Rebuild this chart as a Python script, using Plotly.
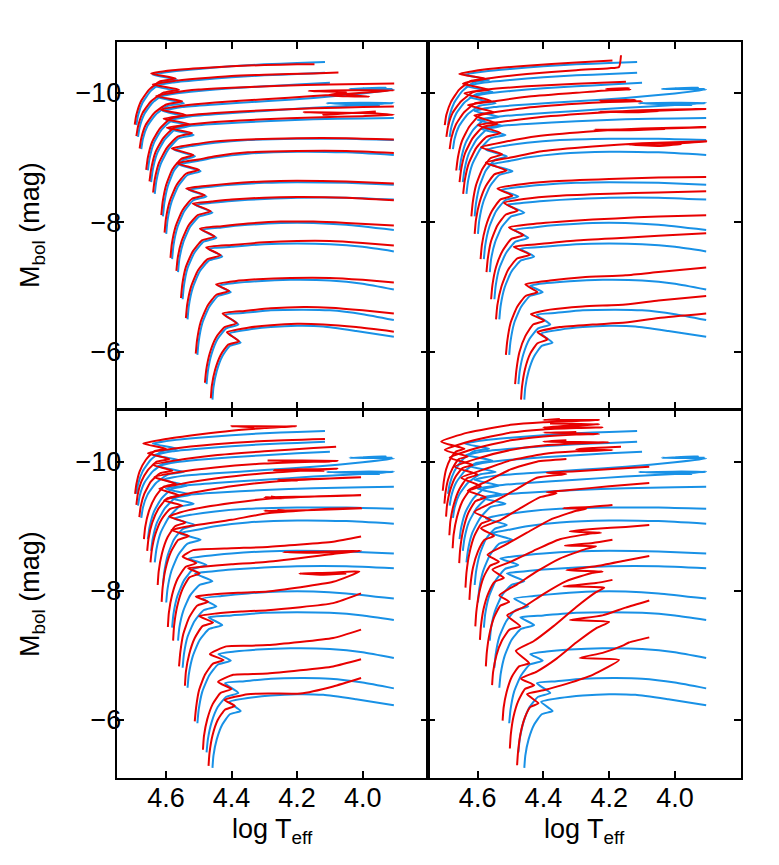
import plotly.graph_objects as go

# ---- data: each track is a list of (log Teff, Mbol) points ----
BLUE_TRACKS = [
    [(4.690,-9.50),(4.685,-9.65),(4.671,-9.85),(4.646,-10.03),(4.612,-10.16),(4.565,-10.20),(4.640,-10.28),(4.58,-10.33),(4.50,-10.37),(4.40,-10.41),(4.30,-10.44),(4.20,-10.46),(4.115,-10.475)],
    [(4.685,-9.32),(4.680,-9.47),(4.666,-9.67),(4.640,-9.85),(4.604,-9.98),(4.555,-10.02),(4.635,-10.10),(4.58,-10.16),(4.50,-10.20),(4.40,-10.24),(4.30,-10.27),(4.20,-10.29),(4.115,-10.31)],
    [(4.675,-9.13),(4.670,-9.29),(4.656,-9.49),(4.630,-9.67),(4.594,-9.80),(4.545,-9.84),(4.625,-9.93),(4.57,-9.99),(4.50,-10.03),(4.40,-10.07),(4.30,-10.10),(4.20,-10.13),(4.10,-10.155)],
    [(4.655,-8.80),(4.650,-8.98),(4.637,-9.22),(4.613,-9.43),(4.581,-9.58),(4.535,-9.63),(4.610,-9.72),(4.55,-9.78),(4.45,-9.82),(4.30,-9.87),(4.15,-9.92),(4.00,-9.99),(3.905,-10.05),(4.04,-10.06),(3.93,-10.08),(4.00,-10.07),(3.91,-10.06)],
    [(4.645,-8.62),(4.640,-8.81),(4.627,-9.06),(4.603,-9.28),(4.571,-9.44),(4.525,-9.49),(4.600,-9.58),(4.54,-9.63),(4.45,-9.67),(4.30,-9.72),(4.15,-9.77),(4.00,-9.81),(3.905,-9.845),(4.11,-9.84),(3.95,-9.81),(4.05,-9.82),(3.91,-9.84)],
    [(4.634,-8.44),(4.629,-8.64),(4.616,-8.90),(4.592,-9.13),(4.560,-9.30),(4.515,-9.35),(4.590,-9.44),(4.53,-9.49),(4.45,-9.52),(4.30,-9.56),(4.15,-9.59),(4.00,-9.605),(3.905,-9.61)],
    [(4.609,-8.09),(4.605,-8.29),(4.594,-8.56),(4.575,-8.80),(4.548,-8.96),(4.511,-9.02),(4.575,-9.12),(4.52,-9.18),(4.45,-9.23),(4.35,-9.27),(4.20,-9.29),(4.05,-9.29),(3.905,-9.27)],
    [(4.599,-7.82),(4.595,-8.03),(4.583,-8.31),(4.562,-8.56),(4.534,-8.73),(4.494,-8.79),(4.559,-8.89),(4.50,-8.95),(4.45,-9.00),(4.35,-9.06),(4.20,-9.09),(4.05,-9.08),(3.905,-9.04)],
    [(4.581,-7.43),(4.577,-7.64),(4.565,-7.92),(4.544,-8.17),(4.516,-8.34),(4.476,-8.40),(4.531,-8.50),(4.48,-8.54),(4.40,-8.58),(4.30,-8.61),(4.20,-8.62),(4.05,-8.61),(3.905,-8.58)],
    [(4.563,-7.23),(4.559,-7.43),(4.547,-7.69),(4.526,-7.93),(4.498,-8.09),(4.458,-8.15),(4.511,-8.27),(4.46,-8.30),(4.40,-8.33),(4.30,-8.36),(4.20,-8.38),(4.05,-8.38),(3.905,-8.35)],
    [(4.549,-6.81),(4.545,-7.02),(4.534,-7.29),(4.513,-7.53),(4.485,-7.70),(4.446,-7.76),(4.489,-7.88),(4.43,-7.92),(4.35,-7.96),(4.25,-7.99),(4.15,-7.99),(4.05,-7.96),(3.905,-7.88)],
    [(4.534,-6.50),(4.530,-6.71),(4.518,-6.99),(4.497,-7.24),(4.468,-7.41),(4.428,-7.47),(4.470,-7.59),(4.40,-7.62),(4.30,-7.66),(4.20,-7.67),(4.10,-7.66),(4.00,-7.62),(3.905,-7.55)],
    [(4.504,-5.95),(4.500,-6.16),(4.489,-6.44),(4.468,-6.69),(4.441,-6.86),(4.402,-6.92),(4.440,-7.02),(4.39,-7.06),(4.32,-7.09),(4.22,-7.11),(4.10,-7.10),(4.00,-7.05),(3.905,-6.96)],
    [(4.476,-5.50),(4.472,-5.70),(4.461,-5.96),(4.442,-6.20),(4.416,-6.36),(4.379,-6.42),(4.420,-6.57),(4.36,-6.60),(4.28,-6.64),(4.18,-6.65),(4.10,-6.64),(4.00,-6.58),(3.905,-6.49)],
    [(4.458,-5.26),(4.455,-5.45),(4.445,-5.70),(4.428,-5.93),(4.405,-6.09),(4.372,-6.14),(4.407,-6.28),(4.35,-6.34),(4.28,-6.38),(4.20,-6.40),(4.12,-6.39),(4.02,-6.32),(3.905,-6.23)],
]

RED_TRACKS_A = [
    [(4.695,-9.51),(4.690,-9.66),(4.676,-9.87),(4.651,-10.05),(4.617,-10.18),(4.570,-10.22),(4.645,-10.30),(4.58,-10.35),(4.50,-10.38),(4.40,-10.41),(4.30,-10.43),(4.20,-10.44),(4.147,-10.44)],
    [(4.690,-9.33),(4.685,-9.48),(4.671,-9.69),(4.645,-9.87),(4.609,-10.00),(4.560,-10.05),(4.640,-10.13),(4.58,-10.18),(4.50,-10.22),(4.40,-10.26),(4.30,-10.28),(4.15,-10.30),(4.074,-10.315)],
    [(4.680,-9.14),(4.675,-9.30),(4.661,-9.51),(4.635,-9.69),(4.599,-9.82),(4.550,-9.87),(4.630,-9.95),(4.57,-10.01),(4.50,-10.05),(4.40,-10.08),(4.25,-10.11),(4.10,-10.13),(3.904,-10.145)],
    [(4.660,-8.81),(4.655,-9.00),(4.642,-9.24),(4.618,-9.45),(4.586,-9.60),(4.540,-9.66),(4.615,-9.74),(4.55,-9.80),(4.45,-9.85),(4.30,-9.90),(4.15,-9.95),(4.00,-10.00),(3.905,-10.04),(4.165,-10.03),(4.05,-10.01),(4.11,-9.96),(3.98,-9.94),(4.05,-9.97)],
    [(4.650,-8.63),(4.645,-8.82),(4.632,-9.08),(4.608,-9.30),(4.576,-9.46),(4.530,-9.52),(4.607,-9.60),(4.54,-9.65),(4.45,-9.69),(4.30,-9.73),(4.15,-9.76),(4.00,-9.78),(3.905,-9.79)],
    [(4.639,-8.46),(4.634,-8.66),(4.621,-8.92),(4.597,-9.15),(4.565,-9.32),(4.520,-9.38),(4.597,-9.46),(4.53,-9.51),(4.45,-9.55),(4.30,-9.59),(4.15,-9.62),(4.00,-9.64),(3.905,-9.66),(4.00,-9.69),(4.18,-9.70),(4.05,-9.68),(4.12,-9.66),(3.96,-9.71)],
    [(4.614,-8.11),(4.610,-8.31),(4.599,-8.58),(4.580,-8.82),(4.553,-8.98),(4.516,-9.04),(4.582,-9.14),(4.52,-9.20),(4.45,-9.25),(4.35,-9.28),(4.20,-9.30),(4.05,-9.30),(3.905,-9.28)],
    [(4.604,-7.84),(4.600,-8.05),(4.588,-8.33),(4.567,-8.58),(4.539,-8.75),(4.499,-8.81),(4.566,-8.91),(4.50,-8.97),(4.45,-9.02),(4.35,-9.08),(4.20,-9.10),(4.05,-9.10),(3.905,-9.07)],
    [(4.586,-7.45),(4.582,-7.66),(4.570,-7.94),(4.549,-8.19),(4.521,-8.36),(4.481,-8.42),(4.538,-8.52),(4.48,-8.56),(4.40,-8.60),(4.30,-8.63),(4.20,-8.64),(4.05,-8.63),(3.905,-8.60)],
    [(4.568,-7.25),(4.564,-7.45),(4.552,-7.71),(4.531,-7.95),(4.503,-8.11),(4.463,-8.17),(4.518,-8.29),(4.46,-8.32),(4.40,-8.35),(4.30,-8.38),(4.20,-8.39),(4.05,-8.38),(3.905,-8.34)],
    [(4.554,-6.83),(4.550,-7.04),(4.539,-7.31),(4.518,-7.55),(4.490,-7.72),(4.451,-7.78),(4.496,-7.90),(4.43,-7.94),(4.35,-7.98),(4.25,-8.01),(4.15,-8.01),(4.05,-7.99),(3.905,-7.95)],
    [(4.539,-6.52),(4.535,-6.73),(4.523,-7.01),(4.502,-7.26),(4.473,-7.43),(4.433,-7.49),(4.477,-7.61),(4.40,-7.65),(4.30,-7.69),(4.20,-7.71),(4.10,-7.71),(4.00,-7.68),(3.905,-7.64)],
    [(4.509,-5.97),(4.505,-6.18),(4.494,-6.46),(4.473,-6.71),(4.446,-6.88),(4.407,-6.94),(4.447,-7.04),(4.39,-7.09),(4.32,-7.12),(4.22,-7.14),(4.10,-7.14),(4.00,-7.11),(3.905,-7.07)],
    [(4.481,-5.52),(4.477,-5.72),(4.466,-5.98),(4.447,-6.22),(4.421,-6.38),(4.384,-6.44),(4.427,-6.59),(4.36,-6.63),(4.28,-6.67),(4.18,-6.69),(4.10,-6.68),(4.00,-6.64),(3.905,-6.59)],
    [(4.463,-5.28),(4.460,-5.47),(4.450,-5.72),(4.433,-5.95),(4.410,-6.11),(4.377,-6.16),(4.414,-6.30),(4.35,-6.37),(4.28,-6.41),(4.20,-6.43),(4.12,-6.42),(4.02,-6.38),(3.905,-6.31)],
]

RED_TRACKS_B = [
    [(4.700,-9.50),(4.695,-9.66),(4.681,-9.86),(4.656,-10.05),(4.622,-10.18),(4.575,-10.22),(4.656,-10.29),(4.58,-10.36),(4.45,-10.42),(4.30,-10.47),(4.19,-10.50)],
    [(4.695,-9.32),(4.690,-9.48),(4.676,-9.69),(4.650,-9.87),(4.614,-10.01),(4.565,-10.05),(4.645,-10.14),(4.57,-10.22),(4.45,-10.29),(4.30,-10.35),(4.20,-10.38),(4.17,-10.40),(4.164,-10.58)],
    [(4.685,-9.13),(4.680,-9.30),(4.666,-9.51),(4.641,-9.70),(4.607,-9.84),(4.560,-9.88),(4.640,-9.99),(4.57,-10.05),(4.45,-10.10),(4.30,-10.14),(4.149,-10.17)],
    [(4.665,-8.80),(4.660,-9.00),(4.648,-9.25),(4.625,-9.48),(4.594,-9.65),(4.550,-9.70),(4.630,-9.81),(4.55,-9.87),(4.45,-9.94),(4.30,-10.00),(4.20,-10.04),(4.135,-10.05),(4.21,-10.06),(4.14,-10.07),(4.19,-10.05)],
    [(4.655,-8.62),(4.650,-8.82),(4.638,-9.07),(4.615,-9.30),(4.584,-9.47),(4.540,-9.52),(4.610,-9.65),(4.55,-9.70),(4.45,-9.77),(4.30,-9.83),(4.20,-9.86),(4.10,-9.87),(4.23,-9.88),(4.12,-9.89),(4.18,-9.87)],
    [(4.644,-8.44),(4.639,-8.65),(4.627,-8.91),(4.604,-9.15),(4.573,-9.32),(4.530,-9.38),(4.600,-9.50),(4.53,-9.55),(4.42,-9.62),(4.27,-9.68),(4.10,-9.73),(3.905,-9.75),(4.08,-9.72),(4.23,-9.71),(4.12,-9.70),(4.05,-9.72)],
    [(4.619,-8.09),(4.615,-8.30),(4.605,-8.57),(4.586,-8.82),(4.561,-8.99),(4.525,-9.05),(4.590,-9.16),(4.52,-9.24),(4.42,-9.33),(4.27,-9.40),(4.10,-9.45),(3.905,-9.47),(4.10,-9.44),(4.245,-9.43),(4.15,-9.42),(4.03,-9.44)],
    [(4.609,-7.82),(4.605,-8.04),(4.594,-8.31),(4.575,-8.56),(4.549,-8.74),(4.512,-8.80),(4.575,-8.92),(4.50,-9.00),(4.40,-9.10),(4.25,-9.17),(4.10,-9.22),(3.905,-9.25),(3.99,-9.22),(4.14,-9.20),(4.05,-9.18),(3.98,-9.21)],
    [(4.591,-7.43),(4.587,-7.65),(4.576,-7.92),(4.557,-8.17),(4.531,-8.35),(4.494,-8.41),(4.540,-8.52),(4.48,-8.58),(4.38,-8.63),(4.20,-8.67),(4.05,-8.69),(3.905,-8.70)],
    [(4.573,-7.23),(4.569,-7.44),(4.559,-7.71),(4.540,-7.95),(4.514,-8.12),(4.478,-8.18),(4.520,-8.30),(4.46,-8.36),(4.35,-8.41),(4.20,-8.44),(4.05,-8.46),(3.905,-8.48)],
    [(4.559,-6.81),(4.555,-7.03),(4.544,-7.31),(4.524,-7.56),(4.498,-7.74),(4.460,-7.80),(4.505,-7.92),(4.44,-7.97),(4.32,-8.02),(4.18,-8.06),(4.05,-8.09),(3.905,-8.11)],
    [(4.544,-6.50),(4.540,-6.72),(4.528,-7.00),(4.508,-7.26),(4.480,-7.44),(4.440,-7.50),(4.490,-7.62),(4.42,-7.66),(4.30,-7.72),(4.15,-7.76),(4.05,-7.79),(3.905,-7.83)],
    [(4.514,-5.95),(4.510,-6.16),(4.500,-6.44),(4.480,-6.69),(4.454,-6.86),(4.418,-6.92),(4.455,-7.04),(4.38,-7.10),(4.28,-7.15),(4.15,-7.18),(4.05,-7.23),(3.905,-7.30)],
    [(4.486,-5.50),(4.482,-5.72),(4.473,-5.99),(4.455,-6.24),(4.431,-6.42),(4.397,-6.48),(4.438,-6.58),(4.38,-6.65),(4.28,-6.70),(4.15,-6.73),(4.05,-6.79),(3.905,-6.86)],
    [(4.468,-5.26),(4.465,-5.46),(4.456,-5.73),(4.440,-5.97),(4.418,-6.13),(4.387,-6.19),(4.418,-6.30),(4.35,-6.38),(4.25,-6.42),(4.15,-6.45),(4.05,-6.52),(3.905,-6.59)],
]

RED_TRACKS_C = [
    [(4.694,-9.50),(4.690,-9.65),(4.680,-9.85),(4.661,-10.03),(4.636,-10.16),(4.600,-10.20),(4.669,-10.28),(4.60,-10.35),(4.50,-10.42),(4.40,-10.48),(4.30,-10.52),(4.203,-10.55),(4.24,-10.545),(4.40,-10.55),(4.33,-10.535)],
    [(4.690,-9.33),(4.686,-9.49),(4.675,-9.69),(4.655,-9.87),(4.628,-10.00),(4.590,-10.04),(4.655,-10.13),(4.58,-10.20),(4.45,-10.27),(4.30,-10.32),(4.115,-10.35)],
    [(4.681,-9.14),(4.677,-9.30),(4.666,-9.50),(4.646,-9.69),(4.618,-9.82),(4.580,-9.86),(4.640,-9.95),(4.57,-10.02),(4.45,-10.10),(4.30,-10.16),(4.15,-10.21),(4.081,-10.23)],
    [(4.667,-8.80),(4.663,-8.99),(4.652,-9.23),(4.633,-9.45),(4.607,-9.61),(4.570,-9.66),(4.635,-9.76),(4.56,-9.84),(4.45,-9.91),(4.30,-9.97),(4.15,-10.00),(4.077,-10.01),(4.29,-10.02),(4.10,-10.00),(4.20,-10.01)],
    [(4.657,-8.62),(4.653,-8.81),(4.642,-9.05),(4.623,-9.27),(4.597,-9.43),(4.560,-9.48),(4.620,-9.58),(4.55,-9.66),(4.45,-9.74),(4.30,-9.82),(4.15,-9.87),(4.077,-9.89),(4.27,-9.87),(4.12,-9.86),(4.20,-9.88)],
    [(4.647,-8.44),(4.643,-8.63),(4.632,-8.88),(4.613,-9.11),(4.587,-9.27),(4.550,-9.32),(4.605,-9.40),(4.54,-9.50),(4.40,-9.62),(4.25,-9.70),(4.10,-9.74),(4.005,-9.76),(4.15,-9.73),(4.26,-9.72),(4.20,-9.71),(4.23,-9.72)],
    [(4.625,-8.09),(4.622,-8.30),(4.612,-8.58),(4.595,-8.83),(4.572,-9.00),(4.540,-9.06),(4.590,-9.15),(4.53,-9.25),(4.40,-9.36),(4.28,-9.43),(4.10,-9.47),(4.005,-9.48),(4.15,-9.46),(4.30,-9.45),(4.24,-9.43),(4.28,-9.46)],
    [(4.613,-7.83),(4.610,-8.05),(4.601,-8.34),(4.584,-8.61),(4.562,-8.79),(4.530,-8.85),(4.583,-8.94),(4.53,-9.00),(4.40,-9.10),(4.29,-9.20),(4.10,-9.27),(4.005,-9.28),(4.15,-9.25),(4.30,-9.24),(4.22,-9.23),(4.26,-9.25)],
    [(4.594,-7.44),(4.591,-7.66),(4.581,-7.94),(4.564,-8.19),(4.540,-8.37),(4.507,-8.43),(4.549,-8.53),(4.517,-8.63),(4.40,-8.66),(4.29,-8.68),(4.09,-8.76),(4.005,-8.84)],
    [(4.578,-7.23),(4.575,-7.46),(4.566,-7.75),(4.550,-8.02),(4.528,-8.21),(4.497,-8.27),(4.532,-8.35),(4.496,-8.37),(4.40,-8.41),(4.29,-8.45),(4.09,-8.57),(4.005,-8.62),(4.10,-8.61),(4.243,-8.60),(4.15,-8.59),(4.05,-8.61)],
    [(4.560,-6.83),(4.556,-7.05),(4.547,-7.33),(4.529,-7.59),(4.505,-7.77),(4.471,-7.83),(4.509,-7.91),(4.466,-7.94),(4.38,-7.97),(4.29,-7.99),(4.09,-8.14),(4.01,-8.30),(4.10,-8.28),(4.193,-8.27),(4.13,-8.25),(4.05,-8.27)],
    [(4.542,-6.53),(4.539,-6.75),(4.529,-7.02),(4.512,-7.27),(4.489,-7.45),(4.456,-7.51),(4.499,-7.61),(4.446,-7.65),(4.37,-7.68),(4.29,-7.70),(4.09,-7.81),(4.005,-7.96)],
    [(4.512,-5.98),(4.508,-6.19),(4.499,-6.46),(4.481,-6.70),(4.457,-6.87),(4.424,-6.93),(4.466,-7.02),(4.416,-7.14),(4.35,-7.15),(4.29,-7.16),(4.09,-7.27),(4.005,-7.40)],
    [(4.487,-5.54),(4.484,-5.75),(4.474,-6.01),(4.457,-6.25),(4.433,-6.42),(4.400,-6.48),(4.441,-6.59),(4.395,-6.70),(4.35,-6.71),(4.29,-6.72),(4.09,-6.83),(4.005,-6.94)],
    [(4.470,-5.29),(4.467,-5.49),(4.458,-5.76),(4.442,-6.00),(4.420,-6.16),(4.390,-6.22),(4.421,-6.31),(4.35,-6.40),(4.28,-6.41),(4.19,-6.41),(4.09,-6.52),(4.005,-6.65)],
]

RED_TRACKS_D = [
    [(4.706,-9.55),(4.703,-9.69),(4.696,-9.88),(4.683,-10.04),(4.665,-10.16),(4.640,-10.20),(4.711,-10.31),(4.63,-10.45),(4.50,-10.57),(4.40,-10.61),(4.30,-10.63),(4.23,-10.645),(4.40,-10.645),(4.35,-10.66)],
    [(4.701,-9.35),(4.698,-9.51),(4.690,-9.72),(4.676,-9.90),(4.657,-10.04),(4.630,-10.08),(4.700,-10.18),(4.62,-10.32),(4.50,-10.45),(4.40,-10.50),(4.30,-10.52),(4.22,-10.53),(4.40,-10.53),(4.30,-10.56),(4.23,-10.58),(4.38,-10.59)],
    [(4.696,-9.15),(4.693,-9.33),(4.684,-9.55),(4.668,-9.76),(4.646,-9.90),(4.615,-9.95),(4.685,-10.06),(4.61,-10.20),(4.50,-10.33),(4.40,-10.39),(4.30,-10.42),(4.23,-10.43),(4.40,-10.45),(4.30,-10.46)],
    [(4.686,-8.86),(4.683,-9.07),(4.673,-9.33),(4.656,-9.57),(4.633,-9.74),(4.600,-9.80),(4.670,-9.92),(4.60,-10.05),(4.50,-10.18),(4.40,-10.25),(4.30,-10.28),(4.20,-10.30),(4.40,-10.31),(4.33,-10.33)],
    [(4.676,-8.66),(4.673,-8.87),(4.663,-9.14),(4.646,-9.39),(4.623,-9.56),(4.590,-9.62),(4.650,-9.75),(4.58,-9.88),(4.50,-10.02),(4.40,-10.12),(4.30,-10.16),(4.19,-10.18),(4.30,-10.19),(4.25,-10.21),(4.164,-10.23)],
    [(4.656,-8.43),(4.653,-8.65),(4.644,-8.94),(4.628,-9.21),(4.606,-9.39),(4.575,-9.45),(4.630,-9.55),(4.57,-9.70),(4.50,-9.88),(4.42,-10.00),(4.33,-10.04)],
    [(4.637,-8.05),(4.634,-8.28),(4.625,-8.58),(4.610,-8.85),(4.589,-9.04),(4.560,-9.10),(4.610,-9.22),(4.55,-9.38),(4.48,-9.58),(4.42,-9.75),(4.33,-9.81),(4.39,-9.83),(4.30,-9.85),(4.18,-9.89),(4.078,-9.92)],
    [(4.625,-7.86),(4.622,-8.08),(4.614,-8.36),(4.599,-8.61),(4.579,-8.79),(4.550,-8.85),(4.590,-8.97),(4.53,-9.10),(4.47,-9.28),(4.41,-9.45),(4.36,-9.51),(4.39,-9.53),(4.32,-9.56),(4.20,-9.62),(4.078,-9.67)],
    [(4.607,-7.45),(4.604,-7.67),(4.596,-7.95),(4.582,-8.21),(4.562,-8.39),(4.535,-8.45),(4.570,-8.56),(4.52,-8.70),(4.45,-8.90),(4.38,-9.10),(4.30,-9.24),(4.27,-9.27),(4.34,-9.28),(4.26,-9.30),(4.19,-9.33)],
    [(4.593,-7.24),(4.590,-7.45),(4.582,-7.72),(4.567,-7.97),(4.548,-8.14),(4.520,-8.20),(4.555,-8.33),(4.50,-8.45),(4.43,-8.62),(4.35,-8.80),(4.25,-8.89),(4.225,-8.90),(4.32,-8.92),(4.24,-8.96),(4.15,-8.99),(4.078,-9.02)],
    [(4.575,-6.83),(4.572,-7.05),(4.564,-7.33),(4.550,-7.59),(4.531,-7.77),(4.504,-7.83),(4.534,-7.93),(4.48,-8.10),(4.42,-8.30),(4.35,-8.50),(4.27,-8.65),(4.24,-8.69),(4.335,-8.70),(4.25,-8.74),(4.19,-8.79)],
    [(4.556,-6.54),(4.553,-6.74),(4.543,-7.00),(4.526,-7.23),(4.503,-7.40),(4.470,-7.45),(4.510,-7.62),(4.46,-7.75),(4.40,-7.95),(4.33,-8.15),(4.25,-8.28),(4.22,-8.30),(4.33,-8.32),(4.24,-8.38),(4.15,-8.47),(4.078,-8.54)],
    [(4.524,-5.99),(4.521,-6.19),(4.512,-6.43),(4.496,-6.67),(4.474,-6.83),(4.443,-6.88),(4.484,-7.07),(4.43,-7.22),(4.37,-7.45),(4.30,-7.75),(4.24,-7.98),(4.215,-8.05),(4.34,-8.07),(4.24,-8.12),(4.19,-8.17)],
    [(4.502,-5.56),(4.499,-5.78),(4.491,-6.05),(4.476,-6.30),(4.456,-6.48),(4.428,-6.54),(4.468,-6.64),(4.42,-6.75),(4.36,-6.95),(4.30,-7.20),(4.24,-7.42),(4.20,-7.52),(4.32,-7.55),(4.22,-7.62),(4.15,-7.74),(4.078,-7.85)],
    [(4.480,-5.30),(4.477,-5.51),(4.470,-5.78),(4.457,-6.03),(4.440,-6.20),(4.415,-6.26),(4.450,-6.40),(4.40,-6.46),(4.33,-6.56),(4.25,-6.70),(4.17,-6.93),(4.29,-6.96),(4.22,-7.04),(4.155,-7.16),(4.14,-7.20),(4.078,-7.28)],
]

X_TICKVALS = [4.6, 4.4, 4.2, 4.0]
X_TICKTEXT = ["4.6", "4.4", "4.2", "4.0"]
Y_TICKVALS = [-10, -8, -6]
Y_TICKTEXT = ["\u221210", "\u22128", "\u22126"]
X_RANGE = [4.75, 3.80]
Y_RANGE_TOP = [-5.11, -10.79]
Y_RANGE_BOTTOM = [-5.107, -10.80]

BLUE = "rgb(24,145,230)"
RED = "rgb(232,0,0)"
FONT = "Liberation Sans, Arial, Helvetica, sans-serif"

fig = go.Figure()

panels = [("x", "y", RED_TRACKS_A), ("x2", "y2", RED_TRACKS_B),
          ("x3", "y3", RED_TRACKS_C), ("x4", "y4", RED_TRACKS_D)]

for xa, ya, reds in panels:
    for color, group in ((BLUE, BLUE_TRACKS), (RED, reds)):
        for tr in group:
            fig.add_trace(go.Scatter(
                x=[p[0] for p in tr], y=[p[1] for p in tr],
                xaxis=xa, yaxis=ya, mode="lines",
                line=dict(color=color, width=2, shape="spline", smoothing=0.5),
                hoverinfo="skip", showlegend=False))

common = dict(showline=True, linecolor="black", linewidth=2, mirror="ticks",
              ticks="inside", ticklen=7, tickwidth=1.5, tickcolor="black",
              showgrid=False, zeroline=False,
              tickfont=dict(family=FONT, size=27, color="black"))

# page body has an 8px offset; domains are set so that the frame lands where the reference has it
W, H, OFF = 779.0, 865.0, 8.0
XL = [(116.7 - OFF) / W, (428.3 - OFF) / W]
XR = [(428.3 - OFF) / W, (740.7 - OFF) / W]
YT = [1 - (409.3 - OFF) / H, 1 - (41.7 - OFF) / H]
YB = [1 - (777.7 - OFF) / H, 1 - (410.0 - OFF) / H]

def xax(dom, anchor, labels):
    d = dict(common)
    d.update(domain=dom, anchor=anchor, range=X_RANGE, tickvals=X_TICKVALS,
             ticktext=X_TICKTEXT, showticklabels=labels, ticklabelstandoff=-5)
    return d

def yax(dom, anchor, rng, labels):
    d = dict(common)
    d.update(domain=dom, anchor=anchor, range=rng, tickvals=Y_TICKVALS,
             ticktext=Y_TICKTEXT, showticklabels=labels, ticklabelstandoff=-12)
    return d

fig.update_layout(
    width=779, height=865,
    margin=dict(l=0, r=0, t=0, b=0),
    paper_bgcolor="white", plot_bgcolor="white",
    xaxis=xax(XL, "y", False), yaxis=yax(YT, "x", Y_RANGE_TOP, True),
    xaxis2=xax(XR, "y2", False), yaxis2=yax(YT, "x2", Y_RANGE_TOP, False),
    xaxis3=xax(XL, "y3", True), yaxis3=yax(YB, "x3", Y_RANGE_BOTTOM, True),
    xaxis4=xax(XR, "y4", True), yaxis4=yax(YB, "x4", Y_RANGE_BOTTOM, False),
)

ann_font = dict(family=FONT, size=27, color="black")
annotations = []
for yc in (225.0, 594.0):
    annotations.append(dict(text="M<sub>bol</sub> (mag)", x=(32 - OFF) / W, y=1 - (yc - OFF) / H,
                            xref="paper", yref="paper", showarrow=False,
                            textangle=-90, font=ann_font,
                            xanchor="center", yanchor="middle"))
for xc in (272.5, 584.5):
    annotations.append(dict(text="log T<sub>eff</sub>", x=(xc - OFF) / W, y=1 - (812 - OFF) / H,
                            xref="paper", yref="paper", showarrow=False,
                            font=ann_font, xanchor="center", yanchor="top"))
fig.update_layout(annotations=annotations)

fig.write_html("out.html")
